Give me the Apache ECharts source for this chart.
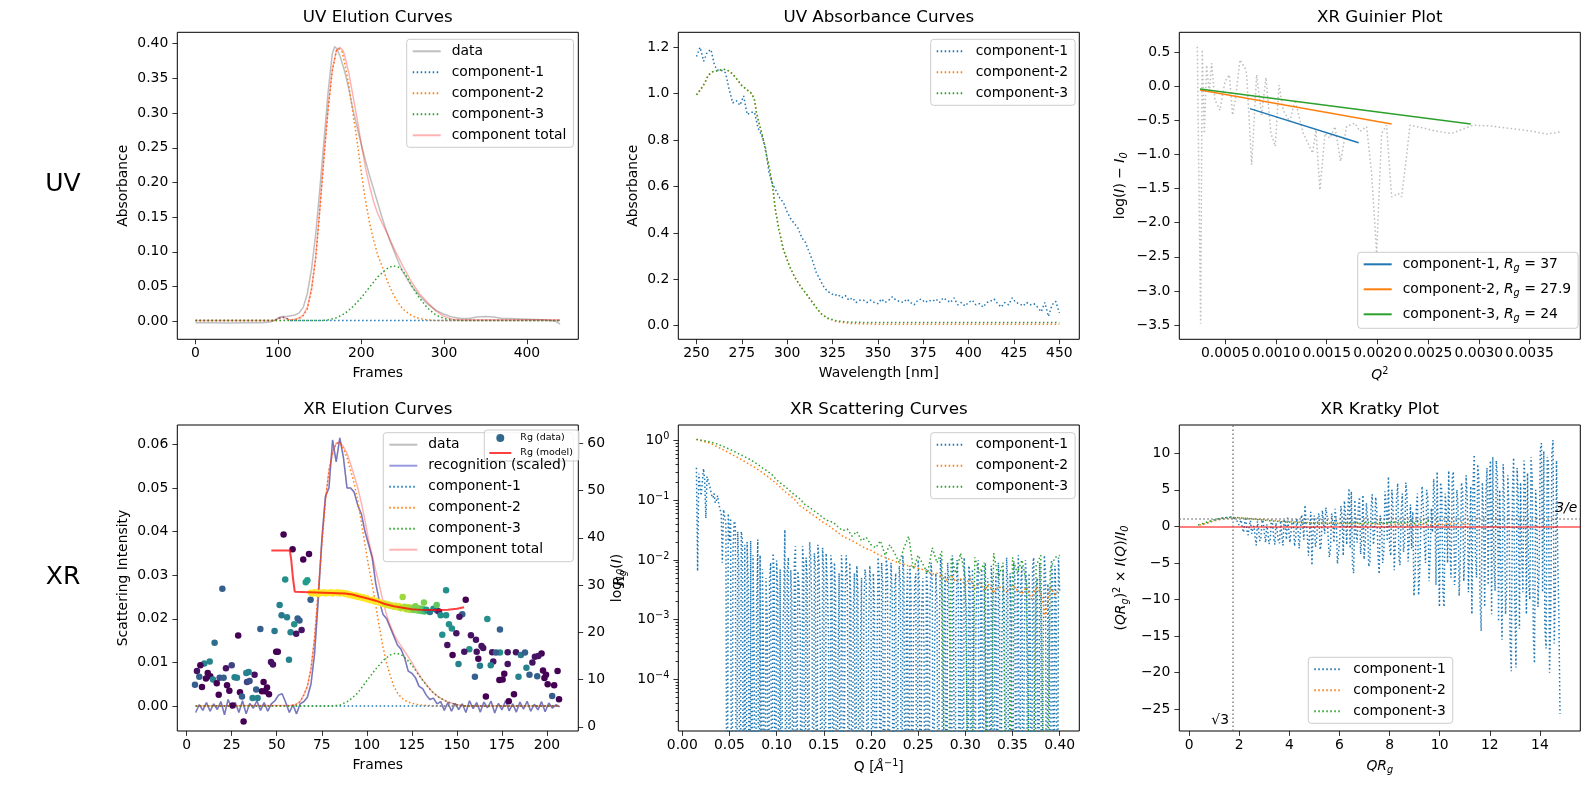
<!DOCTYPE html>
<html>
<head>
<meta charset="utf-8">
<script src="https://cdn.jsdelivr.net/npm/echarts@6/dist/echarts.min.js"></script>
<style>
  html, body { margin: 0; padding: 0; background: #fff; }
  #chart { width: 1589px; height: 790px; }
</style>
</head>
<body>
<div id="chart"></div>
<script>
// ---------- data ----------

// UV elution curves  [frame, absorbance]
const uvElutionData = [[0,-0.002],[20,-0.002],[40,-0.0025],[60,-0.002],[80,-0.002],[90,-0.001],[95,0.001],[100,0.005],[105,0.007],[110,0.007],[115,0.008],[120,0.009],[125,0.012],[130,0.02],[135,0.04],[140,0.075],[145,0.125],[150,0.19],[155,0.26],[160,0.33],[165,0.385],[168,0.396],[171,0.392],[175,0.38],[180,0.36],[185,0.335],[190,0.305],[195,0.28],[200,0.255],[205,0.232],[210,0.21],[215,0.19],[220,0.17],[225,0.15],[230,0.132],[235,0.115],[240,0.1],[245,0.085],[250,0.072],[260,0.052],[270,0.037],[280,0.025],[290,0.016],[300,0.01],[310,0.006],[320,0.004],[330,0.004],[340,0.006],[350,0.007],[360,0.006],[370,0.004],[380,0.004],[400,0.003],[420,0.002],[435,0],[440,-0.004]];
const uvElutionC1 = [[0,0.001],[95,0.001],[100,0.004],[105,0.006],[110,0.004],[115,0.001],[440,0.001]];
const uvElutionC2 = [[0,0.001],[100,0.001],[120,0.002],[125,0.004],[130,0.008],[135,0.018],[140,0.045],[145,0.09],[150,0.16],[155,0.235],[160,0.305],[165,0.36],[170,0.39],[173,0.393],[177,0.388],[180,0.372],[185,0.34],[190,0.3],[195,0.26],[200,0.215],[205,0.175],[210,0.142],[215,0.117],[220,0.095],[225,0.08],[230,0.063],[235,0.048],[240,0.036],[245,0.026],[250,0.018],[255,0.013],[260,0.009],[265,0.006],[270,0.004],[280,0.002],[290,0.001],[440,0.001]];
const uvElutionC3 = [[0,0.001],[150,0.001],[160,0.002],[170,0.005],[180,0.011],[190,0.021],[200,0.034],[210,0.049],[220,0.064],[230,0.075],[238,0.08],[245,0.078],[250,0.073],[255,0.064],[260,0.053],[265,0.043],[270,0.034],[280,0.019],[290,0.009],[300,0.004],[310,0.002],[320,0.001],[440,0.001]];
const uvElutionTotal = [[0,0.001],[95,0.001],[100,0.004],[105,0.006],[110,0.004],[115,0.002],[120,0.003],[125,0.005],[130,0.009],[135,0.02],[140,0.047],[145,0.092],[150,0.162],[155,0.237],[160,0.307],[165,0.362],[170,0.39],[174,0.395],[178,0.39],[180,0.383],[185,0.358],[190,0.325],[195,0.292],[200,0.256],[205,0.222],[210,0.195],[215,0.172],[220,0.155],[225,0.142],[230,0.13],[235,0.117],[240,0.104],[245,0.092],[250,0.08],[255,0.069],[260,0.058],[265,0.049],[270,0.04],[280,0.027],[290,0.015],[300,0.007],[310,0.003],[320,0.002],[440,0.002]];

// UV absorbance curves
const wavelengths = [250,252,254,256,258,260,262,264,266,268,270,272,274,276,278,280,282,284,286,288,290,292,294,296,298,300,302,304,306,308,310,312,314,316,318,320,322,324,326,328,330,332,334,336,338,340,342,344,346,348,350,352,354,356,358,360,362,364,366,368,370,372,374,376,378,380,382,384,386,388,390,392,394,396,398,400,402,404,406,408,410,412,414,416,418,420,422,424,426,428,430,432,434,436,438,440,442,444,446,448,450];
const uvAbsC1 = [1.16,1.2,1.14,1.18,1.19,1.12,1.1,1.1,1.09,1.02,0.96,0.97,0.95,0.99,0.91,0.92,0.92,0.85,0.82,0.77,0.66,0.61,0.58,0.55,0.53,0.49,0.46,0.44,0.42,0.38,0.36,0.32,0.28,0.23,0.2,0.17,0.15,0.14,0.13,0.135,0.12,0.13,0.11,0.12,0.1,0.11,0.11,0.1,0.11,0.1,0.095,0.115,0.1,0.11,0.125,0.11,0.105,0.1,0.115,0.1,0.09,0.11,0.115,0.1,0.11,0.105,0.115,0.1,0.12,0.11,0.1,0.12,0.09,0.1,0.085,0.1,0.11,0.09,0.095,0.08,0.1,0.105,0.115,0.095,0.08,0.1,0.09,0.12,0.1,0.095,0.085,0.1,0.09,0.095,0.08,0.06,0.1,0.04,0.09,0.105,0.055];
const uvAbsC2 = [[250,0.995],[252.5,1.02],[254.5,1.045],[256.5,1.08],[259,1.095],[262,1.1],[265,1.105],[267,1.102],[270,1.085],[272.5,1.06],[275,1.035],[278,1.016],[280.5,1.0],[282,0.973],[283,0.923],[284.5,0.872],[286.5,0.815],[288,0.757],[290,0.686],[292,0.6],[293.5,0.5],[295.5,0.412],[298,0.326],[301,0.262],[304,0.211],[307.5,0.168],[311,0.132],[315,0.089],[318.5,0.053],[322,0.032],[327.5,0.017],[335,0.01],[345,0.007],[360,0.006],[450,0.006]];
const uvAbsC3 = [[250,0.995],[252.5,1.02],[254.5,1.045],[256.5,1.08],[259,1.095],[262,1.1],[265,1.105],[267,1.102],[270,1.085],[272.5,1.06],[275,1.035],[278,1.016],[280.5,1.0],[282,0.973],[283,0.923],[284.5,0.872],[286.5,0.815],[288,0.757],[290,0.686],[292,0.6],[293.5,0.5],[295.5,0.412],[298,0.326],[301,0.262],[304,0.211],[307.5,0.168],[311,0.132],[315,0.089],[318.5,0.053],[322,0.034],[327.5,0.02],[335,0.015],[345,0.014],[450,0.014]];

// XR Guinier plot  [Q^2, log(I) - I0]
const guinierData = [[0.000224,0.58],[0.000257,-3.48],[0.000273,0.54],[0.000293,-0.69],[0.000316,0.31],[0.000342,-0.1],[0.000365,0.34],[0.000398,-0.2],[0.000447,-0.35],[0.000497,0.07],[0.00054,0.17],[0.000572,-0.42],[0.000599,-0.2],[0.000645,0.39],[0.000694,0.27],[0.00071,0.19],[0.00076,-1.15],[0.000809,0.17],[0.000858,-0.42],[0.000901,0.13],[0.00095,-0.69],[0.000993,-0.88],[0.001029,0.02],[0.001072,-0.35],[0.001137,-0.52],[0.001187,-0.2],[0.001269,-0.69],[0.001361,-0.98],[0.001394,-0.64],[0.001433,-1.52],[0.001483,-0.69],[0.001532,-0.76],[0.001581,-0.59],[0.001637,-1.1],[0.001696,-0.59],[0.001778,-0.54],[0.001828,-0.66],[0.001893,-0.59],[0.001943,-1.28],[0.001992,-2.45],[0.002041,-0.69],[0.00209,-0.57],[0.00214,-1.62],[0.002205,-1.57],[0.002238,-1.62],[0.002281,-1.1],[0.002321,-0.57],[0.002452,-0.61],[0.002583,-0.66],[0.00273,-0.69],[0.002945,-0.57],[0.003109,-0.58],[0.003273,-0.61],[0.003438,-0.64],[0.003536,-0.66],[0.003668,-0.7],[0.003799,-0.67]];
const guinierFit1 = [[0.000743,-0.327],[0.001815,-0.826]];
const guinierFit2 = [[0.000251,-0.053],[0.00214,-0.552]];
const guinierFit3 = [[0.000251,-0.038],[0.00292,-0.552]];
const rgValues = [37, 27.9, 24];

// XR elution curves (left axis)
const xrFrames = [5,7,9,11,13,15,17,19,21,23,25,27,29,31,33,35,37,39,41,43,45,47,49,51,53,55,57,59,61,63,65,67,69,71,73,75,77,79,81,83,85,87,89,91,93,95,97,99,101,103,105,107,109,111,113,115,117,119,121,123,125,127,129,131,133,135,137,139,141,143,145,147,149,151,153,155,157,159,161,163,165,167,169,171,173,175,177,179,181,183,185,187,189,191,193,195,197,199,201,203,205,207];
const xrRecognition = [-0.0015,0.0003,-0.001,0.0008,-0.0012,0.0005,-0.0008,0.001,-0.002,0.0015,
  -0.0005,0.0008,-0.0015,0.0012,-0.0018,0.0006,-0.0005,0.0012,-0.001,0.0008,
  -0.0012,0.0005,0.0012,0.0025,0.0028,0.0008,-0.0015,0.0003,-0.0018,0.0005,
  0.001,0.002,0.005,0.012,0.024,0.038,0.048,0.05,0.061,0.056,
  0.0615,0.057,0.05,0.05,0.049,0.046,0.044,0.04,0.037,0.034,
  0.028,0.024,0.021,0.02,0.018,0.016,0.014,0.013,0.011,0.008,
  0.0075,0.0065,0.0045,0.004,0.0025,0.0015,0.0018,0.0005,0.001,-0.001,
  0.0008,-0.0012,0.0006,-0.0008,0.0005,-0.0015,0.0012,-0.0006,0.0008,-0.0014,
  0.0009,-0.0004,0.0011,-0.0016,0.0006,-0.0009,0.0012,-0.0011,0.0005,-0.0014,
  0.0009,-0.0007,0.0011,-0.0012,0.0004,-0.0009,0.001,-0.0013,0.0007,-0.0005,
  0.0003,-0.0002];
const xrC1 = [[5,0],[207,0]];
const xrC2 = [[5,0],[55,0],[60,0.0002],[63,0.001],[65,0.0025],[67,0.0045],[69,0.0085],[71,0.0155],[73,0.026],[75,0.037],[77,0.047],[79,0.054],[81,0.058],[83,0.0602],[85,0.0603],[87,0.059],[89,0.057],[91,0.054],[93,0.051],[95,0.047],[97,0.042],[99,0.037],[101,0.032],[103,0.028],[105,0.023],[107,0.018],[109,0.0135],[111,0.0098],[113,0.007],[115,0.0045],[117,0.003],[119,0.002],[121,0.0013],[125,0.0006],[130,0.0002],[140,0],[207,0]];
const xrC3 = [[5,0],[80,0],[85,0.0002],[90,0.0012],[95,0.003],[100,0.0058],[105,0.0085],[110,0.0108],[113,0.0117],[116,0.0121],[119,0.0118],[122,0.0108],[125,0.0094],[128,0.0076],[131,0.0059],[134,0.0043],[137,0.003],[140,0.002],[145,0.0009],[150,0.0003],[155,0],[207,0]];
const xrTotal = [[5,0],[60,0.0002],[63,0.001],[65,0.0025],[67,0.0045],[69,0.0085],[71,0.0155],[73,0.026],[75,0.037],[77,0.047],[79,0.054],[81,0.058],[83,0.0603],[85,0.0605],[87,0.0595],[89,0.058],[91,0.0555],[93,0.0528],[95,0.05],[97,0.0465],[99,0.0425],[101,0.038],[103,0.0345],[105,0.031],[107,0.0276],[109,0.024],[111,0.0208],[113,0.0185],[115,0.0165],[117,0.015],[119,0.0138],[121,0.0125],[123,0.0113],[125,0.01],[128,0.0078],[131,0.006],[134,0.0044],[137,0.003],[140,0.002],[145,0.0009],[150,0.0003],[155,0],[207,0]];

// XR elution, right axis: Rg per frame [frame, Rg, colour weight 0..1]
const rgData = [
  [53.8,40.7,0],[58.8,37.6,0],[67.9,36.6,0],[64.7,35.4,0],[54.7,31.2,0.5],[66.1,30.6,0.55],[67,31,0.55],[19.8,29.2,0.3],[68.8,26.9,0.3],[51.6,25.8,0.45],
  [52.7,23.6,0.4],[55.7,23.2,0.45],[61.6,22.9,0.3],[62.6,22.5,0.3],[59.7,21.7,0.5],[40.9,20.7,0.3],[48.8,20.3,0.4],[57.7,20,0.45],[60.8,19.7,0.05],[63.8,20.5,0.05],
  [28.6,19.3,0],[15.5,17.8,0.35],[49.7,15.9,0],[50.6,15.9,0],[56.8,14.2,0.45],[46.8,13.7,0.05],[47.9,13.2,0.05],[25,13,0.2],[21.8,12.4,0.05],[12.8,13.8,0.45],
  [9.8,13.4,0.45],[7.6,13,0],[5.7,11.8,0.05],[11.7,11.4,0],[7,10.6,0.3],[13.1,10.7,0],[10.7,10.2,0],[14.6,10,0.45],[18.3,10.4,0.25],[20.5,10.4,0.3],
  [26.6,10.5,0.45],[27.9,10.4,0.45],[33.1,11.4,0.45],[34.4,11.6,0.45],[37.7,11,0.05],[33.5,9.5,0.2],[34.9,9.7,0.25],[16.7,9.2,0],[4.6,8.9,0.3],[8.5,8.4,0],
  [22.4,8.8,0],[23.7,7.6,0],[42.7,9.5,0],[38.6,7.9,0.3],[41.8,7.5,0],[43.6,7.5,0],[44.6,8.3,0],[45.7,6.9,0],[17.8,6.8,0],[29.6,7.3,0],
  [30.7,6.4,0.3],[36.6,6.1,0.45],[39.4,6.1,0.45],[25.5,4.5,0],[31.6,1.1,0],
  [69,28.4,1],[70,28.2,1],[71,28.5,1],[72,28.3,1],[73,28.1,1],[74,28.4,1],[75,28.3,1],[76,28.5,1],[77,28.2,1],[78,28.4,1],
  [79,28.3,1],[80,28.5,1],[81,28.2,1],[82,28.4,1],[83,28.3,1],[84,28.5,1],[85,28.2,1],[86,28.4,1],[87,28.3,1],[88,28.1,1],
  [89,28.2,1],[90,27.9,1],[91,28,1],[92,27.8,1],[93,27.7,1],[94,27.8,1],[95,27.5,1],[96,27.6,1],[97,27.3,1],[98,27.4,1],
  [99,27.1,1],[100,27.2,1],[101,26.9,1],[102,26.8,1],[103,26.9,1],[104,26.6,1],[105,26.7,1],[106,26.4,1],[107,26.3,1],[108,26.2,1],
  [109,26,1],[110,26.1,0.95],[111,25.8,0.95],[112,25.9,0.95],[113,25.6,0.95],[114,25.7,0.95],[115,25.4,0.95],[116,25.6,0.95],[117,25.3,0.95],[118,25.5,0.95],
  [119,25.1,0.9],[121,25.4,0.88],[122,24.9,0.88],[123,25.3,0.88],[124,24.8,0.88],[125,25.2,0.85],[126,24.7,0.8],[127,25.5,0.8],[128,24.6,0.8],[129,25.1,0.8],
  [130,24.5,0.75],[131,25,0.75],[132,24.4,0.7],[133,24.8,0.55],[135,24.3,0.4],[137,25,0.5],[139,24.6,0.3],[140,24.4,0.1],
  [144,28.9,0.5],[119.9,27.5,0.85],[131.7,26.3,0.8],[138.8,25.8,0.75],[154.9,26.9,0],[141,23.6,0.5],[144,23.6,0.5],[153,23.8,0.3],[151.4,23.3,0.05],[166.9,22.8,0.5],
  [145.6,21.7,0.5],[147.2,20.8,0.5],[173.9,20.6,0.3],[149.7,19.8,0.05],[141.9,19.5,0.5],[157.8,19.4,0.05],[160.6,18.4,0.05],[144.7,17.3,0.05],[163.7,17.1,0.05],[164.6,16.7,0.05],
  [156.9,16.4,0.5],[154.1,15.9,0.05],[161,15.9,0.05],[169.6,15.8,0.05],[173.9,15.7,0.5],[171.7,15.7,0.3],[178.2,15.8,0.05],[182.8,15.8,0.05],[147.6,15.2,0],[185.5,15.2,0.4],
  [187.8,15.7,0.3],[161.9,14.4,0],[197,15.5,0],[195.2,15,0.05],[193.3,14.8,0.05],[191.9,13.6,0.05],[170.2,13.8,0.05],[178.2,13.3,0.05],[150.9,13.3,0.45],[162.8,12.9,0.4],
  [168.8,13,0.45],[188.6,12.5,0.45],[197.8,11.9,0],[176.3,11.2,0],[190.3,11,0.3],[205.9,11.8,0],[160,10.6,0.3],[184.2,10.6,0.45],[175.4,10,0],[194.6,10.7,0.3],
  [199.5,11,0],[198.6,10.3,0],[173.6,9.9,0],[200.4,9,0],[204,8.8,0],[166.1,6.4,0],[181.7,6.9,0],[178.8,5.4,0],[202.9,6.5,0.3],[206.7,5.8,0]
];
const rgModel = [[47,37.3],[57.3,37.3],[58,35.5],[59,31.5],[60,28.6],[61,28.2],[88,28.2],[92,28],[96,27.6],[100,27.2],[105,26.7],[110,26],[115,25.5],[120,25.2],[125,24.9],[130,24.75],[135,24.7],[140,24.7],[145,24.8],[150,25],[154,25.3]];

// Q sampling grids of the scattering curves
const qDense = Array.from({length: 309}, (_, i) => +(0.015 + 0.00125 * i).toFixed(5));
const qFine = Array.from({length: 155}, (_, i) => +(0.015 + 0.0025 * i).toFixed(4));
const qCoarse = Array.from({length: 78}, (_, i) => +(0.015 + 0.005 * i).toFixed(3));

// XR scattering curves (negative intensities are clipped on the log axis)
const scatC1 = [0.35,0.0065,0.28,0.3,0.12,0.2,0.34,0.22,0.05,0.25,
  0.24,0.18,0.15,0.12,0.11,0.13,0.09,0.1,0.12,0.085,
  0.08,0.06,0.009,0.07,0.075,
  0.04,-0.01,0.06,0.02,0.05,-0.005,0.015,0.045,0.04,-0.01,
  0.03,0.008,-0.01,0.03,0.022,-0.005,0.018,-0.01,0.02,0.004,
  -0.005,0.021,-0.004,0.012,
  0.0004,-0.003,0.0015,0.022,-0.004,0.012,-0.002,0.007,0.0002,-0.003,
  0.005,0.0011,-0.003,0.0048,0.009,-0.002,0.013,0.006,-0.004,0.0098,
  0.003,-0.002,0.007,-0.003,0.0005,0.002,0.032,-0.003,0.0065,0.011,
  -0.004,0.0068,0.002,-0.002,0.009,0.017,-0.003,0.0065,0.004,0.0008,
  -0.002,0.017,0.008,-0.003,0.011,0.005,-0.002,0.02,0.01,0.0012,
  -0.004,0.013,0.007,-0.002,0.018,0.009,0.0003,-0.003,0.016,0.006,
  -0.002,0.013,0.004,0.0006,-0.003,0.012,0.007,-0.002,0.009,0.003,
  -0.004,0.0002,0.006,-0.003,0.012,0.005,-0.002,0.0025,0.012,0.004,
  -0.003,0.009,0.002,-0.002,0.0015,0.006,-0.004,0.008,0.003,-0.002,
  0.0004,0.005,-0.003,0.002,0.007,0.004,-0.002,0.0009,0.008,0.003,
  -0.003,0.006,0.002,-0.002,0.0002,0.011,0.005,-0.003,0.009,0.004,
  -0.002,0.0008,0.011,0.006,-0.003,0.0006,0.009,0.003,-0.002,0.0035,
  0.006,-0.003,0.0002,0.008,0.004,-0.002,0.012,0.005,-0.003,0.0012,
  0.007,-0.002,0.008,0.003,-0.003,0.0006,0.004,0.006,-0.002,0.01,
  0.004,-0.003,0.0015,0.005,0.0003,-0.002,0.007,0.003,-0.003,0.002,
  0.009,0.004,-0.002,0.0004,0.006,0.002,-0.003,0.0012,0.011,0.005,
  -0.002,0.0025,0.006,-0.003,0.009,0.004,0.0002,-0.002,0.012,0.006,
  -0.003,0.0007,0.01,0.004,-0.002,0.005,0.002,-0.003,0.011,0.003,
  0.0015,-0.002,0.008,0.005,-0.003,0.007,0.002,-0.002,0.0009,0.006,
  0.01,-0.003,0.004,0.007,-0.002,0.002,0.009,-0.003,0.005,0.0015,
  -0.002,0.008,0.004,-0.003,0.0012,0.006,-0.002,0.009,0.003,-0.003,
  0.0005,0.007,0.002,-0.002,0.011,0.004,-0.003,0.006,0.0008,-0.002,
  0.009,0.005,-0.003,0.0025,0.012,-0.002,0.004,0.008,-0.003,0.0006,
  0.01,0.004,-0.002,0.006,0.0012,-0.003,0.008,0.011,-0.002,0.003,
  0.005,-0.003,0.009,0.002,-0.002,0.0004,0.012,0.006,-0.003,0.004,
  0.0007,-0.002,0.01,0.005,-0.003,0.008,0.002,-0.002,0.011,0.003];
const scatC2 = [1.05,1.0,0.95,0.9,0.82,0.75,0.68,0.62,0.56,0.51,
  0.46,0.41,0.37,0.33,0.29,0.255,0.22,0.19,0.16,0.135,
  0.118,0.1,0.08,0.072,0.062,0.055,0.048,0.042,0.038,0.033,
  0.029,0.025,0.023,0.021,0.019,0.017,0.0155,0.0145,0.013,0.0118,
  0.011,0.0102,0.0096,0.0088,0.0085,0.0079,0.0082,0.0072,0.0069,0.0064,
  0.0058,0.006,0.0052,0.0046,0.0055,0.0043,0.0048,0.0038,0.005,0.0033,
  0.0042,0.0031,0.0039,0.0028,0.0036,0.0033,0.0029,0.0038,0.0031,0.0027,
  0.0035,0.0022,0.0034,0.0029,0.0011,0.0036,0.0026,0.0033];
const scatC3 = [1.05,1.02,0.99,0.95,0.9,0.84,0.78,0.72,0.66,0.6,
  0.55,0.5,0.45,0.4,0.35,0.31,0.27,0.22,0.19,0.165,
  0.14,0.12,0.105,0.085,0.076,0.066,0.058,0.05,0.045,0.043,
  0.036,0.031,0.033,0.025,0.03,0.021,0.024,0.018,0.016,0.021,
  0.012,0.018,0.013,0.009,0.016,0.025,0.007,0.012,0.0085,0.006,
  0.016,0.009,0.014,-0.001,0.011,0.006,0.013,0.005,-0.002,0.011,
  0.006,0.009,-0.001,0.013,0.005,0.009,-0.002,0.011,0.006,0.01,
  0.004,-0.001,0.008,0.012,-0.002,0.007,0.011,0.012];

// XR Kratky plot  (QRg)^2 * I(Q)/I0
// component-1: values on qFine, plus the readings half way between them
const kratkyC1 = [0.3,0.4,0.5,0.6,0.7,0.85,0.95,1.05,1.1,1.15,
  1.2,1.25,1.3,1.2,1.0,0.6,0.3,-0.3,0.5,-0.6,
  0.2,-1.0,0.1,-2.6,-0.5,-1.5,0.6,-2.2,-0.8,-1.8,
  0.4,-2.5,-0.6,-2.3,-1.2,1.0,-1.8,1.3,-2.0,0.6,
  -1.5,-0.5,-2.8,0.8,2.9,-1.2,-0.6,-5.3,1.5,-2.0,
  1.8,-2.5,0.4,2.6,-1.5,-3.0,0.5,2.4,-5.1,-1.8,
  1.2,3.5,-2.5,5.2,4.8,-6.4,-1.0,2.5,-3.8,4.3,
  -2.2,1.0,-4.8,4.4,-1.0,2.0,-6.5,0.6,-3.5,3.0,
  6.8,-4.0,2.5,-2.0,5.9,-5.3,4.5,-2.0,4.2,-1.5,
  -3.0,-9.5,2.3,-9.4,0.5,2.8,-5.0,3.8,-4.2,-0.8,
  3.5,7.5,-11.0,5.0,-11.0,2.0,7.6,-7.0,7.5,-6.0,
  3.0,-5.0,5.0,-3.0,4.0,-2.0,-12.0,9.8,-7.0,6.5,
  -14.3,2.0,4.0,-8.0,9.0,9.5,-8.8,7.0,5.0,-15.5,
  3.5,-9.0,2.5,-19.8,9.4,-19.3,4.0,6.0,-9.0,5.5,
  7.3,-10.0,6.8,-18.7,1.0,-6.0,11.4,10.3,-16.7,8.8,
  -12.0,11.8,-9.0,-4.0,-25.6];
const kratkyC1Mid = [0.35,0.45,0.55,0.65,0.78,0.9,1.0,1.08,1.12,1.18,
  1.22,1.28,1.25,1.1,0.8,0.2,0.9,-0.8,1.0,-1.2,
  0.8,-0.4,-1.5,0.7,-2.0,0.9,-1.0,0.3,-2.4,0.9,
  -1.6,0.5,-2.0,0.8,-2.6,0.2,1.2,-2.2,0.9,-2.7,
  1.1,-3.0,1.6,-1.8,0.5,-4.0,2.0,-0.5,-2.8,1.0,
  -3.2,2.2,-1.0,1.4,-4.2,1.8,-2.2,0.8,-3.5,2.8,
  -4.0,1.5,2.4,-3.0,-5.5,3.6,-2.2,4.0,-1.5,-4.5,
  3.2,-5.5,2.6,-2.5,4.0,-3.8,1.5,-5.0,4.8,-2.0,
  -3.0,5.0,-6.0,3.8,-4.2,2.0,-3.5,6.0,-4.8,3.0,
  2.0,-7.0,4.5,-6.0,5.5,-2.0,5.0,-7.5,2.5,6.5,
  -8.0,-3.0,6.0,-9.0,4.5,-5.0,-3.0,6.5,-8.0,5.0,
  -9.5,6.0,-7.5,7.0,-9.0,5.5,6.0,-4.0,8.5,-10.0,
  6.0,-11.0,8.0,6.0,-12.0,-5.0,9.0,-13.0,-6.0,8.5,
  -12.0,7.0,-16.0,5.0,-10.0,8.0,-14.0,-4.0,9.0,-12.0,
  -8.0,9.5,-15.0,5.0,-11.0,10.5,-9.0,-14.0,9.5,-20.0,
  10.0,-16.0,9.0,-12.0];
const kratkyC2 = [0.18,0.31,0.45,0.6,0.74,0.86,0.97,1.06,1.12,1.16,
  1.18,1.18,1.17,1.14,1.11,1.07,1.03,0.98,0.94,0.9,
  0.86,0.82,0.78,0.75,0.71,0.68,0.66,0.63,0.6,0.58,
  0.56,0.53,0.52,0.5,0.48,0.47,0.45,0.44,0.43,0.42,
  0.4,0.41,0.38,0.39,0.36,0.37,0.34,0.35,0.33,0.35,
  0.32,0.3,0.34,0.31,0.29,0.33,0.28,0.32,0.3,0.27,
  0.34,0.29,0.26,0.35,0.28,0.31,0.24,0.33,0.27,0.36,
  0.2,0.42,0.3,0.45,0.38,0.55,0.25,0.4];
const kratkyC3 = [0.2,0.32,0.45,0.6,0.74,0.87,0.98,1.08,1.15,1.2,
  1.23,1.24,1.23,1.21,1.18,1.14,1.1,1.06,1.01,0.97,
  0.93,0.88,0.84,0.8,0.77,0.73,0.7,0.67,0.64,0.62,
  0.6,0.58,0.55,0.54,0.52,0.51,0.49,0.5,0.47,0.49,
  0.45,0.48,0.44,0.47,0.43,0.5,0.42,0.48,0.44,0.52,
  0.4,0.49,0.45,0.55,0.38,0.52,0.46,0.58,0.4,0.56,
  0.47,0.62,0.38,0.6,0.5,0.66,0.42,0.63,0.36,0.7,
  0.48,0.72,0.41,0.8,0.52,0.95,0.45,1.1];

// tick values
const uvFrameTicks = [0, 100, 200, 300, 400];
const uvAbsTicks = [0, 0.05, 0.1, 0.15, 0.2, 0.25, 0.3, 0.35, 0.4];
const wlTicks = [250, 275, 300, 325, 350, 375, 400, 425, 450];
const absTicks = [0, 0.2, 0.4, 0.6, 0.8, 1.0, 1.2];
const q2Ticks = [0.0005, 0.001, 0.0015, 0.002, 0.0025, 0.003, 0.0035];
const guinierTicks = [-3.5, -3, -2.5, -2, -1.5, -1, -0.5, 0, 0.5];
const xrFrameTicks = [0, 25, 50, 75, 100, 125, 150, 175, 200];
const xrIntTicks = [0, 0.01, 0.02, 0.03, 0.04, 0.05, 0.06];
const rgTicks = [0, 10, 20, 30, 40, 50, 60];
const qTicks = [0, 0.05, 0.1, 0.15, 0.2, 0.25, 0.3, 0.35, 0.4];
const logTicks = [1e-4, 1e-3, 1e-2, 1e-1, 1];
const qrgTicks = [0, 2, 4, 6, 8, 10, 12, 14];
const kratkyTicks = [-25, -20, -15, -10, -5, 0, 5, 10];

// ---------- styling / layout ----------
const FONT = 'DejaVu Sans';
const FS = 13.9;
const C1 = '#1f77b4', C2 = '#ff7f0e', C3 = '#2ca02c';
const DOT = [1.5, 2.5];
const LOG_FLOOR = 1e-9;   // like matplotlib's clip of non-positive values

const RICH = {
  t: {fontSize: FS, fontFamily: FONT, color: '#000'},
  i: {fontSize: FS, fontFamily: FONT, fontStyle: 'italic', color: '#000'},
  sub: {fontSize: 9.7, fontFamily: FONT, fontStyle: 'italic', color: '#000', padding: [8, 0, 0, 0]},
  sup: {fontSize: 9.7, fontFamily: FONT, color: '#000', padding: [0, 0, 8, 0]}
};

const colX = [177.3, 678.3, 1179.3];
const rowY = [32.3, 425];
const W = 401, H = [307, 306];

const grids = [];
for (let r = 0; r < 2; r++) {
  for (let c = 0; c < 3; c++) {
    grids.push({left: colX[c], top: rowY[r], width: W, height: H[r], show: true,
      borderColor: '#000', borderWidth: 1, backgroundColor: 'transparent',
      containLabel: false, outerBoundsMode: 'none'});
  }
}

const minus = s => String(s).replace('-', '\u2212');
const fix = d => v => minus(v.toFixed(d));

function axis(o) {
  return {
    type: o.type || 'value', gridIndex: o.grid, min: o.min, max: o.max, position: o.position,
    name: o.name, nameLocation: 'middle', nameGap: o.nameGap, nameRotate: o.rotate,
    nameTextStyle: {fontSize: FS, color: '#000', fontFamily: FONT, rich: RICH},
    axisLine: {show: false, onZero: false},
    axisTick: {show: true, length: o.tickLen || 4.9, lineStyle: {color: '#000', width: 0.8}, customValues: o.ticks},
    axisLabel: {show: o.noLabel ? false : true, customValues: o.ticks, formatter: o.fmt,
      fontSize: FS, color: '#000', fontFamily: FONT, margin: o.margin, rich: RICH},
    splitLine: {show: false},
    minorTick: {show: false}
  };
}

const xAxes = [
  axis({grid: 0, min: -22, max: 462, ticks: uvFrameTicks, fmt: v => String(v), name: 'Frames', nameGap: 27, margin: 7}),
  axis({grid: 1, min: 240, max: 461, ticks: wlTicks, fmt: v => String(v), name: 'Wavelength [nm]', nameGap: 27, margin: 7}),
  axis({grid: 2, min: 0.0000467, max: 0.004, ticks: q2Ticks, fmt: fix(4), name: '{i|Q}{sup|2}', nameGap: 27, margin: 7}),
  axis({grid: 3, min: -5.2, max: 217.4, ticks: xrFrameTicks, fmt: v => String(v), name: 'Frames', nameGap: 27, margin: 7}),
  axis({grid: 4, min: -0.0042, max: 0.4208, ticks: qTicks, fmt: fix(2), name: '{t|Q [}{i|Å}{sup|\u22121}{t|]}', nameGap: 27, margin: 7}),
  axis({grid: 5, min: -0.39, max: 15.61, ticks: qrgTicks, fmt: v => String(v), name: '{i|QR}{sub|g}', nameGap: 26, margin: 7})
];

const minorLogTicks = [];
for (let e = -5; e <= 0; e++) for (let m = 2; m <= 9; m++) minorLogTicks.push(m * Math.pow(10, e));

const logFmt = v => {
  const e = Math.round(Math.log10(v));
  return '{t|10}{sup|' + minus(e) + '}';
};

const yAxes = [
  axis({grid: 0, min: -0.026, max: 0.4164, ticks: uvAbsTicks, fmt: fix(2), name: 'Absorbance', nameGap: 47, rotate: 90, margin: 9, position: 'left'}),
  axis({grid: 1, min: -0.0586, max: 1.2646, ticks: absTicks, fmt: fix(1), name: 'Absorbance', nameGap: 38, rotate: 90, margin: 9, position: 'left'}),
  axis({grid: 2, min: -3.71, max: 0.793, ticks: guinierTicks, fmt: fix(1), name: '{t|log(}{i|I}{t|) \u2212 }{i|I}{sub|0}', nameGap: 50, rotate: 90, margin: 9, position: 'left'}),
  axis({grid: 3, min: -0.00573, max: 0.06443, ticks: xrIntTicks, fmt: fix(2), name: 'Scattering Intensity', nameGap: 47, rotate: 90, margin: 9, position: 'left'}),
  axis({grid: 3, min: -0.9, max: 63.9, ticks: rgTicks, fmt: v => String(v), name: '{i|R}{sub|g}', nameGap: 32, rotate: 90, margin: 9, position: 'right'}),
  axis({grid: 4, type: 'log', min: 1.36e-5, max: 1.83, ticks: logTicks, fmt: logFmt, name: '{t|log}{sub|10}{t|(}{i|I}{t|)}', nameGap: 52, rotate: 90, margin: 9, position: 'left'}),
  axis({grid: 5, min: -27.97, max: 13.87, ticks: kratkyTicks, fmt: v => minus(v), name: '{t|(}{i|QR}{sub|g}{t|)}{sup|2}{t| \u00d7 }{i|I}{t|(}{i|Q}{t|)/}{i|I}{sub|0}', nameGap: 49, rotate: 90, margin: 9, position: 'left'}),
  axis({grid: 4, type: 'log', min: 1.36e-5, max: 1.83, ticks: minorLogTicks, tickLen: 2.8, noLabel: true, position: 'left'})
];

const dotted = c => ({color: c, width: 1.5, type: DOT});
const solid = (c, w) => ({color: c, width: w || 1.5, type: 'solid'});

function ln(name, data, xi, yi, lineStyle, extra) {
  return Object.assign({
    type: 'line', name, data, xAxisIndex: xi, yAxisIndex: yi,
    symbol: 'none', showSymbol: false, lineStyle, itemStyle: {color: lineStyle.color},
    animation: false, silent: true, clip: true
  }, extra || {});
}

const pairs = (xs, ys) => xs.map((x, i) => [x, ys[i]]);
const logPairs = (xs, ys) => xs.map((x, i) => [x, ys[i] > 0 ? ys[i] : LOG_FLOOR]);

// component-1 Kratky readings in Q order (grid points and the ones between them)
const kratkyC1All = [];
kratkyC1.forEach((v, i) => {
  kratkyC1All.push(v);
  if (i < kratkyC1Mid.length) kratkyC1All.push(kratkyC1Mid[i]);
});

const GRAY = 'rgba(128,128,128,0.5)';
const TOTAL = 'rgba(255,0,0,0.3)';

const gName = (i) => 'component-' + (i + 1) + ', Rg = ' + rgValues[i];

const series = [
  // UV elution
  ln('data', uvElutionData, 0, 0, solid(GRAY)),
  ln('component-1', uvElutionC1, 0, 0, dotted(C1)),
  ln('component-2', uvElutionC2, 0, 0, dotted(C2)),
  ln('component-3', uvElutionC3, 0, 0, dotted(C3)),
  ln('component total', uvElutionTotal, 0, 0, solid(TOTAL)),
  // UV absorbance
  ln('component-1', pairs(wavelengths, uvAbsC1), 1, 1, dotted(C1)),
  ln('component-2', uvAbsC2, 1, 1, dotted(C2)),
  ln('component-3', uvAbsC3, 1, 1, dotted(C3)),
  // Guinier
  ln('guinier data', guinierData, 2, 2, {color: 'rgba(160,160,160,0.7)', width: 1.5, type: DOT}),
  ln(gName(0), guinierFit1, 2, 2, solid(C1)),
  ln(gName(1), guinierFit2, 2, 2, solid(C2)),
  ln(gName(2), guinierFit3, 2, 2, solid(C3)),
  // XR elution (left)
  ln('data', pairs(xrFrames, xrRecognition), 3, 3, solid(GRAY)),
  ln('recognition (scaled)', pairs(xrFrames, xrRecognition), 3, 3, solid('rgba(30,30,190,0.45)')),
  ln('component-1', xrC1, 3, 3, dotted(C1)),
  ln('component-2', xrC2, 3, 3, dotted(C2)),
  ln('component-3', xrC3, 3, 3, dotted(C3)),
  ln('component total', xrTotal, 3, 3, solid(TOTAL)),
  // XR elution (right, Rg)
  {type: 'scatter', name: 'Rg (data)', data: rgData, xAxisIndex: 3, yAxisIndex: 4,
    symbolSize: 6.5, itemStyle: {color: '#31688e', opacity: 1}, animation: false, silent: true, z: 3},
  ln('Rg (model)', rgModel, 3, 4, solid('rgba(255,0,0,0.75)', 2), {z: 4}),
  // XR scattering
  ln('component-1', logPairs(qDense, scatC1), 4, 5, dotted(C1)),
  ln('component-2', logPairs(qCoarse, scatC2), 4, 5, dotted(C2)),
  ln('component-3', logPairs(qCoarse, scatC3), 4, 5, dotted(C3)),
  // Kratky
  ln('component-1', pairs(qDense.map(q => q * rgValues[0]), kratkyC1All), 5, 6, dotted(C1), {
    markLine: {
      symbol: ['none', 'none'], silent: true, animation: false,
      label: {show: false},
      data: [
        {yAxis: 0, lineStyle: {color: 'rgba(255,0,0,0.5)', type: 'solid', width: 1.8}},
        {yAxis: 3 / Math.E, lineStyle: {color: 'rgba(100,100,100,0.8)', type: DOT, width: 1.5},
          label: {show: true, formatter: '3/e', position: 'insideEndTop', distance: 3,
            fontSize: FS, fontStyle: 'italic', color: '#000', fontFamily: FONT}},
        {xAxis: Math.sqrt(3), lineStyle: {color: 'rgba(100,100,100,0.8)', type: DOT, width: 1.5}}
      ]
    },
    markPoint: {
      animation: false, silent: true,
      data: [{coord: [Math.sqrt(3), -27.97], symbol: 'circle', symbolSize: 1,
        itemStyle: {color: 'rgba(0,0,0,0)'},
        label: {show: true, formatter: '\u221a3', position: [-3, -3], align: 'right', verticalAlign: 'bottom',
          fontSize: FS, color: '#000', fontFamily: FONT}}]
    }
  }),
  ln('component-2', pairs(qCoarse.map(q => q * rgValues[1]), kratkyC2), 5, 6, dotted(C2)),
  ln('component-3', pairs(qCoarse.map(q => q * rgValues[2]), kratkyC3), 5, 6, dotted(C3))
];

const rgSeriesIndex = series.findIndex(s => s.name === 'Rg (data)');

// line legends: hide the marker ECharts puts in the middle of a line icon
const NO_MARK = {color: 'rgba(0,0,0,0)', borderWidth: 0};

function legendAt(left, top, names, extra) {
  return Object.assign({
    left, top, orient: 'vertical', data: names, selectedMode: false,
    itemWidth: 28, itemHeight: 14, itemGap: 7,
    padding: [5, 7, 5, 5],
    backgroundColor: 'rgba(255,255,255,0.8)', borderColor: '#cccccc', borderWidth: 1, borderRadius: 3,
    itemStyle: NO_MARK,
    textStyle: {fontSize: FS, color: '#000', fontFamily: FONT, padding: [0, 0, 0, 6], lineHeight: 14, rich: RICH}
  }, extra || {});
}

const legends = [
  legendAt(406.7, 39.3, ['data', 'component-1', 'component-2', 'component-3', 'component total']),
  legendAt(930.7, 39.3, ['component-1', 'component-2', 'component-3']),
  legendAt(1357.7, 252.3, [gName(0), gName(1), gName(2)], {
    itemGap: 9,
    formatter: name => {
      const parts = name.split(', Rg = ');
      return '{t|' + parts[0] + ', }{i|R}{sub|g}{t| = ' + parts[1] + '}';
    }
  }),
  legendAt(383.3, 432.7, ['data', 'recognition (scaled)', 'component-1', 'component-2', 'component-3', 'component total']),
  legendAt(484.3, 430, [{name: 'Rg (data)', itemStyle: {color: '#31688e'}}, {name: 'Rg (model)'}], {
    itemWidth: 22, itemHeight: 8, itemGap: 5, padding: [3, 6, 3, 4],
    textStyle: {fontSize: 9.5, color: '#000', fontFamily: FONT, padding: [0, 0, 0, 4], lineHeight: 10}
  }),
  legendAt(930.7, 432.7, ['component-1', 'component-2', 'component-3']),
  legendAt(1308.3, 657.3, ['component-1', 'component-2', 'component-3'])
];

const titles = [
  ['UV Elution Curves', 0, 0], ['UV Absorbance Curves', 1, 0], ['XR Guinier Plot', 2, 0],
  ['XR Elution Curves', 0, 1], ['XR Scattering Curves', 1, 1], ['XR Kratky Plot', 2, 1]
];
const graphics = titles.map(([text, c, r]) => ({
  type: 'text', x: colX[c] + W / 2, y: rowY[r] - 15,
  style: {text, fontSize: 16.7, fontFamily: FONT, fill: '#000', align: 'center', verticalAlign: 'middle'}
}));
graphics.push(
  {type: 'text', x: 63, y: 184, style: {text: 'UV', fontSize: 25, fontFamily: FONT, fill: '#000', align: 'center', verticalAlign: 'middle'}},
  {type: 'text', x: 63, y: 577, style: {text: 'XR', fontSize: 25, fontFamily: FONT, fill: '#000', align: 'center', verticalAlign: 'middle'}}
);

const chart = echarts.init(document.getElementById('chart'), null, {renderer: 'canvas'});
chart.setOption({
  animation: false,
  backgroundColor: '#fff',
  textStyle: {fontFamily: FONT},
  grid: grids,
  xAxis: xAxes,
  yAxis: yAxes,
  legend: legends,
  visualMap: [{
    type: 'continuous', show: false, seriesIndex: rgSeriesIndex, dimension: 2, min: 0, max: 1,
    inRange: {color: ['#440154', '#482878', '#3e4989', '#31688e', '#26828e', '#1f9e89', '#35b779', '#6ece58', '#b5de2b', '#fde725']}
  }],
  graphic: graphics,
  series
});
</script>
</body>
</html>
